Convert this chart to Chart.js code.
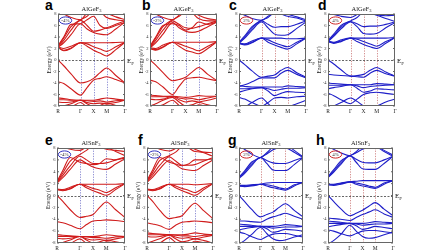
<!DOCTYPE html>
<html><head><meta charset="utf-8">
<script src="https://cdn.jsdelivr.net/npm/chart.js@4.4.0/dist/chart.umd.min.js"></script>
<style>
html,body{margin:0;padding:0;background:#fff;width:448px;height:252px;overflow:hidden;position:relative}
canvas{position:absolute}
.lbl{position:absolute;font:bold 14px "Liberation Sans",Arial,sans-serif;line-height:14px;color:#000}
</style></head><body>
<div class="lbl" style="left:45px;top:-2px">a</div>
<div class="lbl" style="left:142px;top:-2px">b</div>
<div class="lbl" style="left:229px;top:-2px">c</div>
<div class="lbl" style="left:318px;top:-2px">d</div>
<div class="lbl" style="left:45px;top:133px">e</div>
<div class="lbl" style="left:138px;top:133px">f</div>
<div class="lbl" style="left:228px;top:133px">g</div>
<div class="lbl" style="left:316px;top:133px">h</div>
<script>
// ---- k-path and labels ----
const kPath = [0, 0.22, 0.5, 0.866, 1.116, 1.366, 1.616, 1.866, 2.22, 2.573];
const kTicks = [0, 0.866, 1.366, 1.866, 2.573];
const kLabels = ['R', 'Γ', 'X', 'M', 'Γ'];
const compounds = ['AlGeF', 'AlGeF', 'AlGeF', 'AlGeF', 'AlSnF', 'AlSnF', 'AlSnF', 'AlSnF'];
const strains = ['-4%', '-2%', '2%', '4%', '-4%', '-2%', '2%', '4%'];

// ---- band energies (eV) at kPath points ----
const aCond = [
  [2.2, 1.6, 2.0, 3.0, 3.0, 3.0, 3.0, 3.0, 3.05, 3.1],
  [2.2, 1.7, 2.1, 3.0, 2.4, 1.7, 1.2, 0.7, 1.8, 3.1],
  [2.3, 2.0, 2.4, 3.0, 2.8, 2.3, 1.9, 1.5, 2.3, 3.1],
  [2.2, 3.0, 4.4, 6.3, 5.4, 4.8, 4.5, 4.4, 5.4, 6.6],
  [2.3, 3.4, 5.2, 6.9, 6.0, 5.0, 5.2, 5.6, 6.2, 6.8],
  [2.4, 3.8, 5.8, 7.0, 7.6, 8.6, 8.4, 7.4, 7.0, 6.8],
  [2.5, 4.0, 6.2, 6.3, 7.0, 7.6, 6.0, 5.5, 6.0, 6.5],
  [8.6, 8.0, 7.4, 7.0, 8.2, 9.0, 9.0, 8.2, 7.5, 7.0]
];
const aVal = [
  [0, -1.0, -2.4, -4.0, -3.8, -3.2, -2.2, -1.4, -2.7, -4.0],
  [-3.8, -4.1, -5.0, -6.1, -4.8, -3.5, -3.2, -2.9, -3.4, -4.0],
  [-6.6, -6.7, -6.9, -7.0, -7.0, -7.0, -6.8, -6.6, -6.8, -7.0],
  [-6.9, -6.9, -7.0, -7.0, -7.1, -7.2, -7.1, -7.3, -7.1, -7.0],
  [-7.3, -7.4, -7.3, -7.0, -7.4, -7.6, -7.5, -7.6, -7.4, -7.0],
  [-8.3, -8.0, -7.6, -7.0, -7.6, -8.1, -7.9, -7.5, -7.9, -8.3],
  [-8.5, -8.4, -8.2, -7.4, -8.2, -8.7, -8.5, -7.8, -8.2, -8.6]
];
const bCond = [
  [2.0, 1.7, 2.2, 3.1, 3.1, 3.1, 3.1, 3.1, 3.1, 3.2],
  [2.0, 1.8, 2.3, 3.1, 2.4, 1.7, 1.4, 1.1, 2.0, 3.2],
  [2.1, 2.0, 2.6, 3.1, 2.8, 2.4, 2.0, 1.6, 2.4, 3.2],
  [2.1, 3.0, 4.5, 6.5, 5.6, 5.0, 4.8, 5.0, 5.8, 6.6],
  [2.2, 3.4, 5.2, 6.8, 6.2, 5.6, 5.5, 5.8, 6.3, 6.8],
  [2.3, 3.8, 5.8, 7.0, 7.6, 8.4, 8.2, 7.2, 6.8, 6.8],
  [2.4, 4.0, 6.0, 6.3, 6.0, 5.2, 5.6, 6.6, 6.2, 6.6],
  [8.6, 8.0, 7.4, 7.0, 7.8, 8.8, 8.4, 7.8, 7.2, 7.0]
];
const bVal = [
  [0, -0.9, -2.2, -3.6, -3.4, -3.0, -2.1, -1.3, -2.5, -3.6],
  [-3.5, -3.8, -4.7, -6.0, -4.6, -3.3, -3.1, -3.0, -3.3, -3.6],
  [-6.1, -6.2, -6.3, -6.3, -6.4, -6.5, -6.4, -6.2, -6.3, -6.3],
  [-6.4, -6.4, -6.4, -6.3, -6.6, -6.8, -6.7, -6.9, -6.6, -6.3],
  [-6.8, -6.9, -6.8, -6.3, -6.9, -7.3, -7.1, -7.3, -7.0, -6.6],
  [-8.0, -7.6, -7.0, -6.5, -7.3, -8.0, -7.8, -7.4, -7.8, -8.2],
  [-8.4, -8.2, -7.8, -7.0, -7.9, -8.6, -8.5, -7.8, -8.2, -8.5]
];
const cCond = [
  [2.9, 2.6, 3.0, 3.8, 3.8, 3.8, 3.8, 3.7, 3.7, 3.8],
  [2.9, 2.7, 3.1, 3.8, 3.1, 2.6, 2.2, 1.9, 2.8, 3.8],
  [3.0, 2.8, 3.3, 3.8, 3.5, 3.0, 2.6, 2.3, 3.1, 3.8],
  [2.9, 3.8, 5.2, 6.6, 5.6, 4.5, 4.3, 4.4, 5.5, 6.6],
  [3.0, 4.0, 5.5, 6.8, 6.2, 5.7, 5.8, 5.8, 6.2, 6.8],
  [3.1, 4.2, 5.8, 6.9, 7.4, 8.2, 8.0, 7.6, 7.3, 6.8],
  [8.2, 7.8, 7.2, 6.9, 7.6, 8.3, 8.5, 8.0, 7.5, 7.0]
];
const cVal = [
  [0, -0.8, -1.9, -3.0, -2.8, -2.6, -1.8, -1.3, -2.2, -3.0],
  [-4.6, -4.3, -3.8, -3.1, -3.1, -3.1, -2.3, -1.8, -2.5, -3.1],
  [-4.5, -4.6, -4.7, -4.7, -4.7, -4.7, -4.7, -4.5, -4.6, -4.7],
  [-5.0, -5.0, -4.9, -4.8, -5.0, -5.3, -5.1, -4.9, -4.9, -4.8],
  [-5.6, -5.3, -5.0, -4.8, -5.4, -6.2, -5.8, -5.5, -5.6, -5.7],
  [-6.5, -6.8, -7.4, -8.0, -7.4, -6.6, -6.5, -6.6, -6.4, -6.3],
  [-8.6, -8.2, -7.4, -6.6, -7.6, -8.4, -8.6, -8.2, -7.6, -7.0]
];
const dCond = [
  [3.2, 2.9, 3.2, 3.8, 3.8, 3.8, 3.8, 3.8, 3.8, 3.9],
  [3.2, 3.0, 3.3, 3.8, 3.2, 2.7, 2.3, 2.0, 2.9, 3.9],
  [3.3, 3.1, 3.5, 3.8, 3.6, 3.2, 2.8, 2.4, 3.2, 3.9],
  [3.2, 4.1, 5.4, 6.6, 5.8, 4.6, 4.5, 4.6, 5.6, 6.5],
  [3.3, 4.3, 5.7, 6.7, 6.3, 5.8, 5.9, 5.9, 6.2, 6.6],
  [3.4, 4.5, 6.0, 6.8, 7.4, 8.3, 8.2, 7.8, 7.2, 6.7],
  [8.1, 7.9, 7.6, 7.4, 7.9, 8.4, 8.5, 7.9, 7.7, 7.8]
];
const dVal = [
  [0, -0.7, -1.7, -2.8, -2.7, -2.5, -1.8, -1.3, -2.1, -2.8],
  [-2.5, -2.6, -2.7, -2.8, -2.9, -3.0, -2.3, -1.8, -2.4, -2.8],
  [-4.0, -4.1, -4.2, -4.3, -4.3, -4.3, -4.3, -4.1, -4.2, -4.3],
  [-4.4, -4.4, -4.4, -4.3, -4.5, -4.8, -4.6, -4.5, -4.4, -4.3],
  [-5.0, -4.8, -4.6, -4.3, -4.9, -5.6, -5.4, -5.0, -5.1, -5.2],
  [-5.8, -6.2, -6.9, -7.6, -6.8, -6.0, -5.7, -5.6, -5.8, -6.0],
  [-8.4, -8.0, -7.4, -6.6, -7.2, -8.0, -8.3, -8.0, -7.3, -6.8]
];
const eCond = [
  [1.0, 0.8, 1.1, 1.9, 1.9, 1.9, 1.9, 1.9, 1.9, 2.0],
  [1.0, 0.9, 1.2, 1.9, 1.3, 0.8, 0.4, 0.05, 1.0, 2.0],
  [1.1, 1.0, 1.4, 1.9, 1.6, 1.2, 0.9, 0.5, 1.3, 2.0],
  [2.1, 3.0, 4.4, 6.0, 5.4, 4.8, 4.5, 4.4, 5.3, 6.2],
  [2.2, 3.4, 5.0, 6.6, 6.0, 5.4, 5.4, 5.5, 6.0, 6.5],
  [2.3, 3.8, 5.8, 6.9, 7.6, 8.5, 8.4, 8.1, 7.4, 6.7],
  [2.4, 4.2, 6.4, 5.6, 5.4, 5.2, 5.4, 6.2, 6.0, 6.3],
  [8.5, 8.2, 7.8, 7.6, 8.2, 8.8, 8.2, 7.8, 7.6, 7.4]
];
const eVal = [
  [0, -1.0, -2.4, -3.7, -3.5, -3.2, -2.0, -1.1, -2.4, -3.7],
  [-4.4, -4.6, -5.0, -5.6, -4.9, -4.3, -4.2, -4.1, -4.2, -4.4],
  [-6.6, -6.7, -6.8, -6.9, -6.9, -6.9, -6.8, -6.6, -6.8, -6.9],
  [-6.9, -6.9, -6.9, -6.9, -7.0, -7.1, -7.1, -7.2, -7.0, -6.9],
  [-7.2, -7.3, -7.2, -6.9, -7.3, -7.5, -7.4, -7.6, -7.3, -7.0],
  [-8.2, -7.9, -7.5, -6.9, -7.5, -8.0, -7.8, -7.5, -7.8, -8.2],
  [-8.5, -8.4, -8.1, -7.3, -8.1, -8.6, -8.4, -7.8, -8.1, -8.5]
];
const fCond = [
  [1.0, 0.8, 1.1, 1.9, 1.9, 1.9, 1.9, 1.8, 1.9, 2.0],
  [1.0, 0.9, 1.2, 1.9, 1.3, 0.8, 0.4, 0.05, 1.0, 2.0],
  [1.1, 1.0, 1.4, 1.9, 1.6, 1.2, 0.9, 0.5, 1.3, 2.0],
  [2.2, 3.1, 4.5, 5.9, 5.2, 4.5, 4.3, 4.2, 5.1, 6.0],
  [2.3, 3.5, 5.1, 6.5, 5.8, 5.1, 5.1, 5.2, 5.8, 6.4],
  [2.4, 3.9, 5.9, 6.7, 7.3, 8.2, 8.2, 7.8, 7.2, 6.6],
  [2.5, 4.3, 6.4, 5.6, 5.3, 5.0, 5.3, 6.0, 6.0, 6.2],
  [8.6, 8.3, 7.8, 7.5, 7.9, 8.4, 8.0, 7.4, 7.3, 7.2]
];
const fVal = [
  [0, -1.0, -2.5, -3.9, -3.7, -3.4, -2.2, -1.3, -2.6, -3.9],
  [-4.6, -4.8, -5.1, -5.7, -5.0, -4.5, -4.4, -4.3, -4.4, -4.6],
  [-6.3, -6.4, -6.5, -6.6, -6.6, -6.6, -6.5, -6.3, -6.5, -6.6],
  [-6.6, -6.6, -6.6, -6.6, -6.7, -6.8, -6.8, -6.9, -6.7, -6.6],
  [-6.9, -7.0, -6.9, -6.6, -7.0, -7.2, -7.1, -7.3, -7.0, -6.7],
  [-8.0, -7.7, -7.3, -6.7, -7.3, -7.8, -7.6, -7.3, -7.6, -8.0],
  [-8.4, -8.3, -8.0, -7.1, -7.9, -8.5, -8.3, -7.7, -8.0, -8.4]
];
const gCond = [
  [1.6, 1.5, 1.6, 1.9, 2.1, 2.2, 2.2, 2.2, 2.2, 2.2],
  [1.6, 1.6, 1.7, 1.9, 1.6, 1.3, 1.1, 0.9, 1.6, 2.2],
  [1.7, 1.7, 1.8, 1.9, 1.8, 1.6, 1.3, 1.1, 1.8, 2.2],
  [2.9, 3.7, 5.0, 6.4, 5.4, 4.3, 4.2, 4.2, 5.2, 6.4],
  [3.0, 3.9, 5.3, 6.4, 5.9, 5.5, 5.4, 5.4, 5.9, 6.4],
  [3.1, 4.1, 5.6, 6.4, 7.0, 7.7, 8.0, 8.0, 7.3, 6.4],
  [8.4, 7.8, 7.0, 6.4, 7.2, 8.2, 8.8, 8.6, 7.6, 6.5]
];
const gVal = [
  [0, -1.0, -2.3, -3.6, -3.2, -2.8, -2.0, -1.4, -2.5, -3.6],
  [-4.3, -4.3, -4.4, -4.5, -4.0, -3.6, -3.3, -3.0, -3.5, -4.0],
  [-4.8, -4.9, -5.0, -5.2, -5.2, -5.2, -5.1, -4.9, -5.0, -5.2],
  [-5.2, -5.2, -5.2, -5.2, -5.3, -5.5, -5.4, -5.3, -5.3, -5.2],
  [-5.8, -5.6, -5.4, -5.2, -5.6, -6.2, -6.0, -5.7, -5.8, -6.0],
  [-6.2, -6.4, -6.9, -7.4, -6.9, -6.5, -6.4, -6.4, -6.7, -7.0],
  [-8.2, -7.6, -6.6, -5.4, -6.4, -7.3, -7.6, -7.5, -7.0, -6.6]
];
const hCond = [
  [1.8, 1.7, 1.9, 2.3, 2.4, 2.5, 2.5, 2.5, 2.5, 2.5],
  [1.8, 1.8, 2.0, 2.3, 1.9, 1.6, 1.4, 1.2, 1.9, 2.5],
  [1.9, 1.9, 2.1, 2.3, 2.1, 1.9, 1.6, 1.4, 2.1, 2.5],
  [3.0, 3.9, 5.2, 6.7, 5.6, 4.5, 4.4, 4.4, 5.4, 6.6],
  [3.1, 4.1, 5.5, 6.7, 6.1, 5.6, 5.5, 5.5, 6.0, 6.6],
  [3.2, 4.3, 5.8, 6.7, 7.2, 7.8, 8.1, 8.2, 7.4, 6.6],
  [8.2, 7.8, 7.2, 6.7, 7.4, 8.4, 8.8, 8.5, 7.6, 6.8]
];
const hVal = [
  [0, -1.0, -2.2, -3.4, -3.0, -2.5, -1.8, -1.2, -2.3, -3.4],
  [-3.8, -3.9, -4.0, -4.2, -3.7, -3.2, -2.8, -2.4, -3.1, -3.7],
  [-4.3, -4.4, -4.5, -4.7, -4.7, -4.7, -4.6, -4.4, -4.5, -4.6],
  [-4.7, -4.7, -4.7, -4.7, -4.8, -5.0, -4.9, -4.8, -4.8, -4.7],
  [-5.3, -5.1, -4.9, -4.7, -5.1, -5.7, -5.5, -5.2, -5.4, -5.6],
  [-5.8, -6.0, -6.4, -6.8, -6.4, -6.0, -5.9, -5.9, -6.1, -6.3],
  [-8.2, -7.6, -6.6, -5.0, -6.0, -6.9, -7.2, -7.1, -6.6, -6.2]
];

// ---- layout (plot frame rectangles in page px) ----
const frames = [
  [58, 14, 125, 106], [150, 14, 217, 106], [239, 14, 306, 106], [328, 14, 395, 106],
  [57, 148, 125, 243], [147, 148, 213, 243], [239, 148, 303, 243], [328, 148, 393, 243]
];
const panelBands = [
  [aCond, aVal], [bCond, bVal], [cCond, cVal], [dCond, dVal],
  [eCond, eVal], [fCond, fVal], [gCond, gVal], [hCond, hVal]
];
const RED = 'rgb(208,28,28)', BLUE = 'rgb(30,30,200)';
const SERIF = '"Liberation Serif","Times New Roman",serif';
Chart.defaults.font.family = SERIF;

const deco = {
  id: 'deco',
  beforeDatasetsDraw(chart, args, o) {
    const {ctx, chartArea: ca, scales: {x, y}} = chart;
    ctx.save();
    ctx.beginPath(); ctx.rect(ca.left, ca.top, ca.width, ca.height); ctx.clip();
    ctx.lineWidth = 0.9; ctx.strokeStyle = o.vcolor; ctx.setLineDash([1.3, 1.3]);
    kTicks.slice(1, -1).forEach(v => {
      const px = Math.round(x.getPixelForValue(v)) + 0.5;
      ctx.beginPath(); ctx.moveTo(px, ca.top); ctx.lineTo(px, ca.bottom); ctx.stroke();
    });
    ctx.strokeStyle = '#555'; ctx.setLineDash([2, 1.5]);
    const py = Math.round(y.getPixelForValue(0)) + 0.5;
    ctx.beginPath(); ctx.moveTo(ca.left, py); ctx.lineTo(ca.right, py); ctx.stroke();
    ctx.restore();
  },
  afterDraw(chart, args, o) {
    const {ctx, chartArea: ca, scales: {y}} = chart;
    ctx.save();
    // frame
    ctx.strokeStyle = '#666'; ctx.lineWidth = 1; ctx.setLineDash([]);
    ctx.strokeRect(ca.left + 0.5, ca.top + 0.5, ca.width - 1, ca.height - 1);
    // small inner ticks on y
    for (let v = -8; v <= 8; v += 2) {
      const py = y.getPixelForValue(v);
      ctx.beginPath(); ctx.moveTo(ca.left, py); ctx.lineTo(ca.left + 2, py);
      ctx.moveTo(ca.right, py); ctx.lineTo(ca.right - 2, py); ctx.stroke();
    }
    // strain ellipse
    const cx = ca.left + 7.5, cy = ca.top + 6.5;
    ctx.strokeStyle = o.ecolor; ctx.lineWidth = 1;
    ctx.beginPath(); ctx.ellipse(cx, cy, 6.2, 3.6, 0, 0, Math.PI * 2); ctx.stroke();
    ctx.fillStyle = '#333'; ctx.font = '5px ' + SERIF; ctx.textAlign = 'center'; ctx.textBaseline = 'middle';
    ctx.fillText(o.strain, cx, cy + 0.3);
    // title with subscript
    ctx.fillStyle = '#222'; ctx.textBaseline = 'alphabetic'; ctx.textAlign = 'left';
    ctx.font = '6.5px ' + SERIF;
    const w1 = ctx.measureText(o.title).width;
    ctx.font = '4.5px ' + SERIF;
    const w2 = ctx.measureText('3').width;
    const tx = (ca.left + ca.right) / 2 - (w1 + w2) / 2, ty = ca.top - 3.5;
    ctx.font = '6.5px ' + SERIF; ctx.fillText(o.title, tx, ty);
    ctx.font = '4.5px ' + SERIF; ctx.fillText('3', tx + w1, ty + 1.5);
    // E_F
    const zy = y.getPixelForValue(0);
    ctx.font = '7px ' + SERIF; ctx.fillStyle = '#111';
    ctx.fillText('E', ca.right + 2, zy + 2.5);
    const we = ctx.measureText('E').width;
    ctx.font = '5px ' + SERIF; ctx.fillText('F', ca.right + 2 + we, zy + 4.5);
    ctx.restore();
  }
};

frames.forEach((fr, i) => {
  const [L, T, R, B] = fr;
  const isRed = (i % 4) < 2;
  const col = isRed ? RED : BLUE;
  const padL = 2, yW = 12, padT = 12, padR = 16, xH = 9, padB = 2;
  const cw = padL + yW + (R - L) + padR, chh = padT + (B - T) + xH + padB;
  const cv = document.createElement('canvas');
  cv.width = cw; cv.height = chh;
  cv.style.left = (L - padL - yW) + 'px'; cv.style.top = (T - padT) + 'px';
  cv.style.width = cw + 'px'; cv.style.height = chh + 'px';
  document.body.appendChild(cv);
  const [cond, val] = panelBands[i];
  const datasets = cond.concat(val).map(band => ({
    data: kPath.map((k, j) => ({x: k, y: band[j]})),
    borderColor: col, borderWidth: 1.1, pointRadius: 0, fill: false,
    cubicInterpolationMode: 'monotone'
  }));
  new Chart(cv, {
    type: 'line',
    data: {datasets},
    plugins: [deco],
    options: {
      responsive: false, animation: false, devicePixelRatio: 1,
      layout: {padding: {left: padL, top: padT, right: padR, bottom: padB}},
      plugins: {
        legend: {display: false}, tooltip: {enabled: false},
        deco: {vcolor: isRed ? 'rgba(110,110,200,0.85)' : 'rgba(200,110,110,0.85)',
               ecolor: isRed ? 'rgb(50,50,190)' : 'rgb(205,40,40)',
               strain: strains[i], title: compounds[i]}
      },
      scales: {
        x: {
          type: 'linear', min: 0, max: kTicks[kTicks.length - 1],
          grid: {display: false, drawTicks: false}, border: {display: false},
          afterBuildTicks: s => { s.ticks = kTicks.map(v => ({value: v})); },
          afterFit: s => { s.height = xH; },
          ticks: {autoSkip: false, maxRotation: 0, padding: 2, color: '#222', font: {size: 5.5},
                  callback: (v, idx) => kLabels[idx]}
        },
        y: {
          min: -8, max: 8,
          grid: {display: false, drawTicks: false}, border: {display: false},
          afterFit: s => { s.width = yW; },
          ticks: {stepSize: 2, padding: 1.5, color: '#333', font: {size: 4.5}},
          title: {display: true, text: 'Energy (eV)', font: {size: 5.5}, color: '#222', padding: 0}
        }
      }
    }
  });
});
</script>
</body></html>
